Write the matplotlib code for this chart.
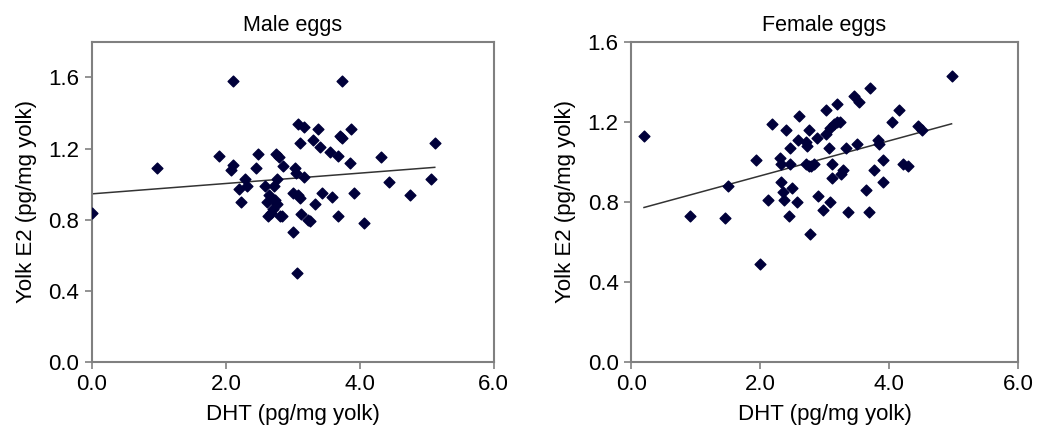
import matplotlib.pyplot as plt
import numpy as np

plt.rcParams['font.family'] = ['Liberation Sans', 'DejaVu Sans']

# Male eggs: DHT (x) vs Yolk E2 (y)
male_dht = [0.00, 0.97, 1.90, 2.10, 2.08, 2.11, 2.48, 2.45, 2.28, 2.31,
            2.19, 2.23, 2.75, 2.80, 2.86, 2.76, 2.58, 2.65, 2.62, 2.72,
            2.77, 2.74, 2.70, 2.63, 2.67, 2.81, 2.84, 3.73, 3.07, 3.16,
            3.38, 3.87, 3.70, 3.74, 3.30, 3.10, 5.12, 3.40, 3.55, 3.68,
            4.31, 3.86, 3.03, 3.05, 3.16, 4.43, 5.07, 4.75, 3.92, 3.43,
            3.58, 3.00, 3.08, 3.11, 3.33, 3.12, 3.22, 3.26, 3.67, 4.06,
            3.01, 3.06]
male_e2 = [0.84, 1.09, 1.16, 1.58, 1.08, 1.11, 1.17, 1.09, 1.03, 0.99,
           0.97, 0.90, 1.17, 1.15, 1.10, 1.03, 0.99, 0.94, 0.90, 0.99,
           0.89, 0.91, 0.86, 0.82, 0.84, 0.82, 0.82, 1.58, 1.34, 1.32,
           1.31, 1.31, 1.27, 1.26, 1.25, 1.23, 1.23, 1.21, 1.18, 1.16,
           1.15, 1.12, 1.09, 1.06, 1.04, 1.01, 1.03, 0.94, 0.95, 0.95,
           0.93, 0.95, 0.94, 0.92, 0.89, 0.83, 0.80, 0.79, 0.82, 0.78,
           0.73, 0.50]

# Female eggs
female_dht = [0.20, 0.91, 1.45, 1.51, 2.00, 1.93, 2.19, 2.40, 2.59, 2.46,
              2.31, 2.33, 2.47, 2.33, 2.36, 2.50, 2.12, 2.37, 2.58, 2.45,
              2.61, 4.97, 3.70, 3.46, 3.54, 3.20, 3.03, 4.16, 4.05, 4.45,
              4.51, 3.24, 3.19, 3.14, 3.08, 2.76, 2.88, 3.03, 2.71, 2.73,
              3.07, 3.33, 3.50, 3.83, 3.85, 3.91, 4.22, 4.30, 2.72, 2.76,
              2.83, 2.79, 3.12, 3.29, 3.25, 3.11, 3.77, 3.91, 3.65, 2.90,
              3.08, 2.98, 3.37, 3.69, 2.78]
female_e2 = [1.13, 0.73, 0.72, 0.88, 0.49, 1.01, 1.19, 1.16, 1.11, 1.07,
             1.02, 0.99, 0.99, 0.90, 0.85, 0.87, 0.81, 0.81, 0.80, 0.73,
             1.23, 1.43, 1.37, 1.33, 1.30, 1.29, 1.26, 1.26, 1.20, 1.18,
             1.16, 1.20, 1.20, 1.19, 1.17, 1.16, 1.12, 1.14, 1.10, 1.08,
             1.07, 1.07, 1.09, 1.11, 1.09, 1.01, 0.99, 0.98, 0.99, 0.98,
             0.99, 0.98, 0.99, 0.96, 0.94, 0.92, 0.96, 0.90, 0.86, 0.83,
             0.80, 0.76, 0.75, 0.75, 0.64]

x_ticks = [0, 2, 4, 6]
y_ticks = [0.0, 0.4, 0.8, 1.2, 1.6]


def draw_panel(ax, x, y, title, ymax):
    ax.scatter(x, y, marker='D', s=30, color='#00003a', zorder=3)
    # linear trend
    k, b = np.polyfit(x, y, 1)
    xs = np.array([min(x), max(x)])
    ax.plot(xs, k * xs + b, color='#333333', lw=1.1, zorder=2)

    ax.set_xlim(0, 6)
    ax.set_ylim(0, ymax)
    ax.set_xticks(x_ticks)
    ax.set_xticklabels(['%.1f' % v for v in x_ticks])
    ax.set_yticks(y_ticks)
    ax.set_yticklabels(['%.1f' % v for v in y_ticks])
    ax.tick_params(direction='out', length=5, width=1.2, color='#808080',
                   labelsize=16, pad=4)
    for sp in ax.spines.values():
        sp.set_color('#808080')
        sp.set_linewidth(1.5)
    ax.set_title(title, fontsize=15.5, pad=8)
    ax.set_xlabel('DHT (pg/mg yolk)', fontsize=16, labelpad=6)
    ax.set_ylabel('Yolk E2 (pg/mg yolk)', fontsize=16, labelpad=8)


fig = plt.figure(figsize=(10.38, 4.36), dpi=100)
ax1 = fig.add_axes([0.0886, 0.170, 0.387, 0.734])
ax2 = fig.add_axes([0.608, 0.170, 0.3727, 0.734])

draw_panel(ax1, male_dht, male_e2, 'Male eggs', 1.8)
draw_panel(ax2, female_dht, female_e2, 'Female eggs', 1.6)

plt.savefig('out.png', dpi=100)
